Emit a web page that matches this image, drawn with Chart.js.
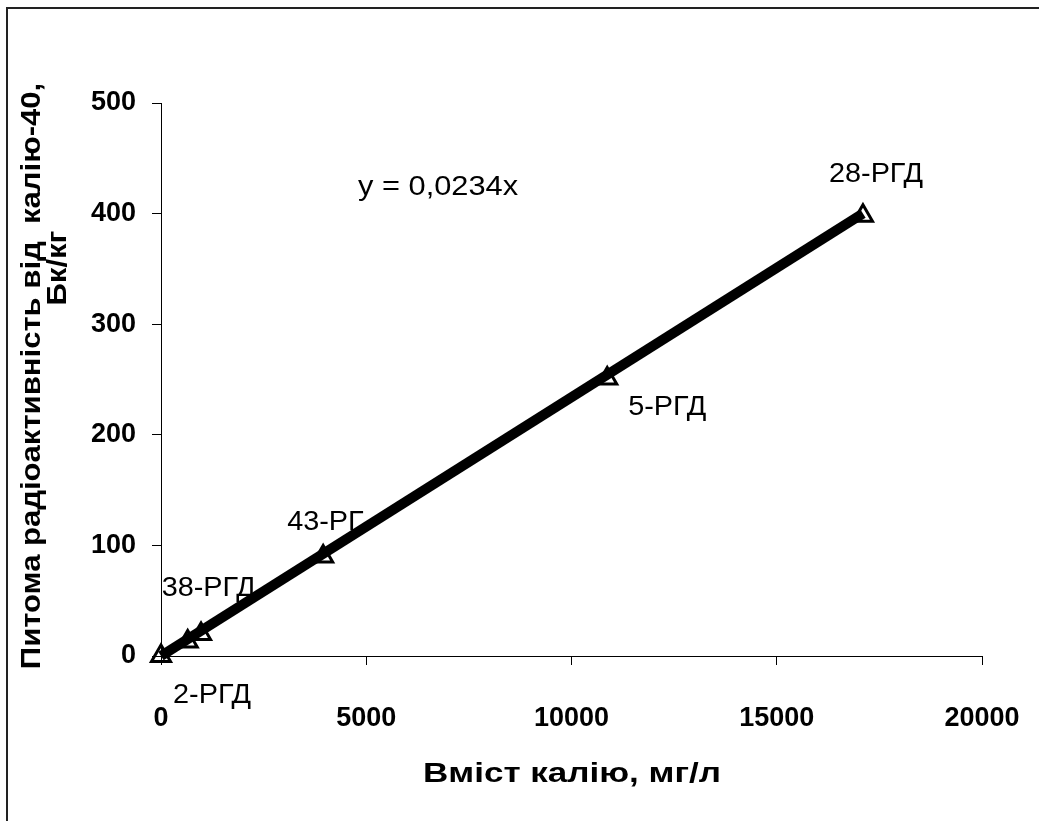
<!DOCTYPE html>
<html>
<head>
<meta charset="utf-8">
<script src="https://cdn.jsdelivr.net/npm/chart.js@4.4.1/dist/chart.umd.min.js"></script>
<style>
  html, body { margin: 0; padding: 0; background: #fff; }
  #wrap { position: relative; width: 1039px; height: 821px; }
</style>
</head>
<body>
<div id="wrap"><canvas id="chart"></canvas></div>
<script>
  // samples: potassium content (mg/l) vs. K-40 specific activity (Bq/kg)
  const potassium = [0, 650, 975, 3950, 10870, 17100];
  const activity = [0, 13, 20, 90, 251, 398];
  const sampleLabels = ['2-РГД', '38-РГД', '', '43-РГ', '5-РГД', '28-РГД'];

  // trend line end points, y = 0,0234x
  const trendX = [0, 17100];
  const trendY = [0, 400];
  const trendText = 'y = 0,0234x';

  const xTicks = [0, 5000, 10000, 15000, 20000];
  const yTicks = [0, 100, 200, 300, 400, 500];
  const xTitle = 'Вміст калію, мг/л';
  const yTitle = ['Питома радіоактивність від  калію-40,', 'Бк/кг'];

  const toPoints = (xs, ys) => xs.map((x, i) => ({ x, y: ys[i] }));

  // label offsets from each marker (px)
  const labelOffsets = [[12, 47], [-26, -46], [0, 0], [-36, -26], [21, 37], [-34, -34]];

  const FONT = '"Liberation Sans", Arial, sans-serif';

  function stretchedText(ctx, text, x, y, align, stretch) {
    ctx.save();
    ctx.translate(x, y);
    ctx.scale(stretch, 1);
    ctx.textAlign = align;
    ctx.fillText(text, 0, 0);
    ctx.restore();
  }

  const annotations = {
    id: 'annotations',
    afterDraw(chart) {
      const ctx = chart.ctx;
      ctx.save();
      // outer frame
      ctx.strokeStyle = '#222';
      ctx.lineWidth = 2;
      ctx.beginPath();
      ctx.moveTo(7, 821);
      ctx.lineTo(7, 8);
      ctx.lineTo(1039, 8);
      ctx.stroke();

      ctx.fillStyle = '#000';
      ctx.textBaseline = 'alphabetic';

      // point labels
      ctx.font = '28px ' + FONT;
      const meta = chart.getDatasetMeta(1);
      meta.data.forEach((pt, i) => {
        if (!sampleLabels[i]) return;
        const [dx, dy] = labelOffsets[i];
        stretchedText(ctx, sampleLabels[i], pt.x + dx, pt.y + dy, 'left', 1.03);
      });

      // equation
      stretchedText(ctx, trendText, 358, 195, 'left', 1.1);

      // axis titles
      ctx.textBaseline = 'middle';
      ctx.font = 'bold 28px ' + FONT;
      stretchedText(ctx, xTitle, 572, 774, 'center', 1.25);

      ctx.font = 'bold 27px ' + FONT;
      ctx.save();
      ctx.translate(33, 376);
      ctx.rotate(-Math.PI / 2);
      stretchedText(ctx, yTitle[0], 0, 0, 'center', 1.15);
      ctx.restore();
      ctx.save();
      ctx.translate(59, 268);
      ctx.rotate(-Math.PI / 2);
      stretchedText(ctx, yTitle[1], 0, 0, 'center', 1.15);
      ctx.restore();

      ctx.restore();
    }
  };

  const axisStyle = {
    grid: { drawOnChartArea: false, drawTicks: true, tickLength: 9, color: '#000', lineWidth: 1 },
    border: { display: true, color: '#000', width: 1 }
  };

  const plainNumber = (value) => String(value);

  new Chart(document.getElementById('chart'), {
    type: 'scatter',
    data: {
      datasets: [
        {
          label: 'trend',
          data: toPoints(trendX, trendY),
          showLine: true,
          borderColor: '#000',
          borderWidth: 10,
          pointRadius: 0,
          clip: false,
          order: 1
        },
        {
          label: 'samples',
          data: toPoints(potassium, activity),
          pointStyle: 'triangle',
          pointRadius: 11,
          pointBorderWidth: 3,
          borderColor: '#000',
          backgroundColor: 'rgba(255,255,255,0)',
          clip: false,
          order: 2
        }
      ]
    },
    options: {
      responsive: true,
      maintainAspectRatio: false,
      animation: false,
      layout: { padding: { top: 103, right: 57, left: 0, bottom: 0 } },
      plugins: { legend: { display: false }, tooltip: { enabled: false } },
      scales: {
        x: {
          type: 'linear', min: 0, max: 20000,
          afterBuildTicks: (scale) => { scale.ticks = xTicks.map((value) => ({ value })); },
          afterFit: (scale) => { scale.height = 165; scale.paddingLeft = 0; scale.paddingRight = 0; },
          ticks: { font: { family: FONT, size: 27, weight: 'bold' }, color: '#000', padding: 37, maxRotation: 0, callback: plainNumber },
          ...axisStyle
        },
        y: {
          type: 'linear', min: 0, max: 500,
          afterBuildTicks: (scale) => { scale.ticks = yTicks.map((value) => ({ value })); },
          afterFit: (scale) => { scale.width = 161; scale.paddingTop = 0; scale.paddingBottom = 0; },
          ticks: { font: { family: FONT, size: 27, weight: 'bold' }, color: '#000', padding: 16, callback: plainNumber },
          ...axisStyle
        }
      }
    },
    plugins: [annotations]
  });
</script>
</body>
</html>
